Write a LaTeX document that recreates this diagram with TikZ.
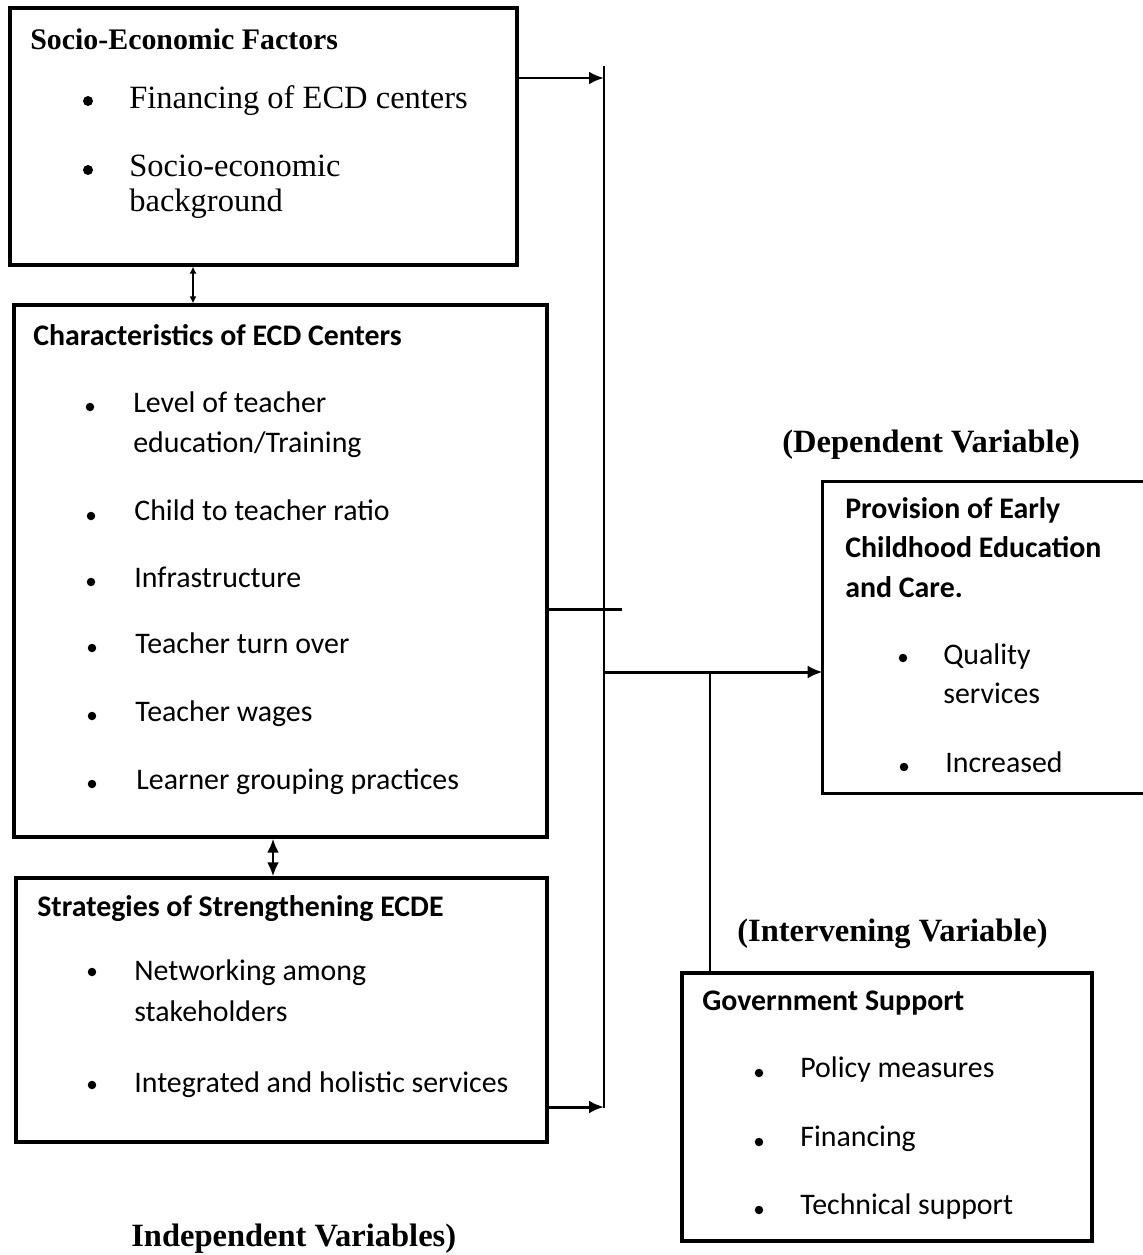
\documentclass[tikz,border=0pt]{standalone}
\usepackage{fontspec}
\newfontfamily\tnr{Liberation Serif}
\newfontfamily\cbr{Carlito}
\usetikzlibrary{arrows.meta,fit}
\begin{document}
\begin{tikzpicture}[x=0.02cm,y=-0.02cm,
  box/.style={draw, line width=1.8pt, inner sep=0pt},
  openbox/.style={inner sep=0pt},
  conn/.style={line width=1.7pt},
  tip/.style={-{Latex[length=0.3cm,width=0.26cm]}},
  dtip/.style={{Latex[length=0.28cm,width=0.24cm]}-{Latex[length=0.28cm,width=0.24cm]}},
  stip/.style={{Latex[length=0.14cm,width=0.14cm]}-{Latex[length=0.14cm,width=0.14cm]}},
  tx/.style={anchor=base west, inner sep=0pt},
  hs/.style={tx, font=\tnr\bfseries\fontsize{17}{20}\selectfont},
  bs/.style={tx, font=\tnr\fontsize{18.5}{21}\selectfont},
  hc/.style={tx, font=\cbr\bfseries\fontsize{17}{20}\selectfont},
  bc/.style={tx, font=\cbr\fontsize{17}{20}\selectfont},
  lab/.style={tx, font=\tnr\bfseries\fontsize{18.5}{21}\selectfont},
  dot/.style={fill, circle, inner sep=0pt, minimum size=0.2cm},
  sdot/.style={fill, circle, inner sep=0pt, minimum size=0.17cm}
]
\useasboundingbox (0,0) rectangle (1143,1255);

% ---- boxes ----
\node[box, fit={(10,8) (517,265)}] (b1) {};
\node[box, fit={(14,305) (547,837)}] (b2) {};
\node[box, fit={(16,878) (547,1142)}] (b3) {};
\node[openbox, fit={(823,482) (1143,793)}] (b4) {};
\draw[line width=1.8pt] (b4.north east) -- (b4.north west) -- (b4.south west) -- (b4.south east);
\node[box, fit={(682,973) (1092,1241)}] (b5) {};

% ---- box 1 text ----
\node[hs] (t1h) at (30,49) {Socio-Economic Factors};
\node[dot] (d11) at (88,101) {};
\node[bs] (t11) at (129,108) {Financing of ECD centers};
\node[dot] (d12) at (88,170) {};
\node[bs] (t12a) at (129,176) {Socio-economic};
\node[bs] (t12b) at (129,211) {background};

% ---- box 2 text ----
\node[hc] (t2h) at (33,345) {Characteristics of ECD Centers};
\node[sdot] (d21) at (90,407) {};
\node[bc] (t21a) at (133,412) {Level of teacher};
\node[bc] (t21b) at (133,452) {education/Training};
\node[sdot] (d22) at (91,516) {};
\node[bc] (t22) at (134,520) {Child to teacher ratio};
\node[sdot] (d23) at (91,582) {};
\node[bc] (t23) at (134,587) {Infrastructure};
\node[sdot] (d24) at (92,648) {};
\node[bc] (t24) at (135,653) {Teacher turn over};
\node[sdot] (d25) at (92,716) {};
\node[bc] (t25) at (135,721) {Teacher wages};
\node[sdot] (d26) at (92,784) {};
\node[bc] (t26) at (136,789) {Learner grouping practices};

% ---- box 3 text ----
\node[hc] (t3h) at (37,916) {Strategies of Strengthening ECDE};
\node[sdot] (d31) at (92,972) {};
\node[bc] (t31a) at (134,980) {Networking among};
\node[bc] (t31b) at (134,1021) {stakeholders};
\node[sdot] (d32) at (92,1085) {};
\node[bc] (t32) at (134,1092) {Integrated and holistic services};

% ---- box 4 text ----
\node[hc] (t4a) at (845,518) {Provision of Early};
\node[hc] (t4b) at (845,557) {Childhood Education};
\node[hc] (t4c) at (845,597) {and Care.};
\node[sdot] (d41) at (903,658) {};
\node[bc] (t41a) at (943,664) {Quality};
\node[bc] (t41b) at (943,703) {services};
\node[sdot] (d42) at (904,767) {};
\node[bc] (t42) at (945,772) {Increased};

% ---- box 5 text ----
\node[hc] (t5h) at (702,1010) {Government Support};
\node[sdot] (d51) at (759,1073) {};
\node[bc] (t51) at (800,1077) {Policy measures};
\node[sdot] (d52) at (759,1142) {};
\node[bc] (t52) at (800,1146) {Financing};
\node[sdot] (d53) at (759,1210) {};
\node[bc] (t53) at (800,1214) {Technical support};

% ---- labels ----
\node[lab] (ldep) at (782,452) {(Dependent Variable)};
\node[lab] (lint) at (737,941) {(Intervening Variable)};
\node[lab] (lind) at (131,1246) {Independent Variables)};

% ---- connectors ----
\coordinate (bustop) at (604,66);
\coordinate (busbot) at (604,1108);
\coordinate (bus1) at (604,78);
\coordinate (bus3) at (604,1107);
\coordinate (busj) at (604,672);
\coordinate (cross) at (622,609);
\coordinate (iv) at (710,672);
\draw[conn] (bustop) -- (busbot);
\draw[conn, tip] (b1.east |- bus1) -- (bus1);
\draw[conn, tip] (b3.east |- bus3) -- (bus3);
\draw[conn] (b2.east |- cross) -- (cross);
\draw[conn, tip] (busj) -- (b4.west |- busj);
\draw[conn] (iv) -- (b5.north -| iv);
\draw[conn, dtip] (b2.south -| 273,0) -- (b3.north -| 273,0);
\draw[line width=1.2pt, stip] (b1.south -| 193,0) -- (b2.north -| 193,0);
\end{tikzpicture}
\end{document}
